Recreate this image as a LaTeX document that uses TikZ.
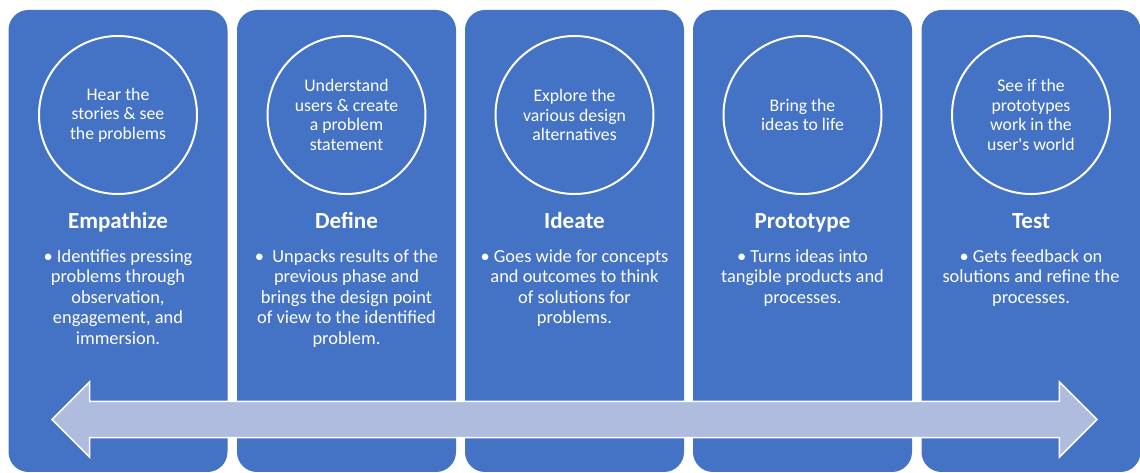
\documentclass[tikz,border=0pt]{standalone}
\usepackage{fontspec}
\setmainfont{Carlito}
\usepackage{xcolor}
\usetikzlibrary{positioning,shapes.arrows}

\definecolor{phaseblue}{HTML}{4472C4}
\definecolor{spanlav}{HTML}{B0BCDE}

\tikzset{
  phase/.style={fill=phaseblue, rounded corners=15pt, minimum width=164.25pt, minimum height=346.5pt, inner sep=0pt},
  aim/.style={circle, draw=white, line width=1.5pt, minimum size=118.5pt, inner sep=0pt, align=center, text=white, font=\fontsize{13.3}{14.6}\selectfont},
  heading/.style={text=white, inner sep=0pt, anchor=base, font=\fontsize{17.3}{20}\selectfont\bfseries},
  notes/.style={text=white, inner sep=0pt, anchor=north, align=center, font=\fontsize{13.8}{15.4}\selectfont},
}

\begin{document}
\begin{tikzpicture}[x=0.75pt, y=0.75pt]
  \useasboundingbox (0,0) rectangle (1140,473);

  % Empathize
  \node[phase] (emp) at (118, 232) {};
  \node[aim] (empc) at (118, 358) {Hear the\\stories \& see\\the problems};
  \node[heading] (empt) at (118, 244) {Empathize};
  \node[notes] (empn) at (118, 224) {\textbullet{} Identifies pressing\\problems through\\observation,\\engagement, and\\immersion.};

  % Define
  \node[phase] (dfn) at (346.5, 232) {};
  \node[aim] (dfnc) at (346.5, 358) {Understand\\users \& create\\a problem\\statement};
  \node[heading] (dfnt) at (346.5, 244) {Define};
  \node[notes] (dfnn) at (346.5, 224) {\textbullet{}\ \ Unpacks results of the\\previous phase and\\brings the design point\\of view to the identified\\problem.};

  % Ideate
  \node[phase] (ide) at (574.5, 232) {};
  \node[aim] (idec) at (574.5, 358) {Explore the\\various design\\alternatives};
  \node[heading] (idet) at (574.5, 244) {Ideate};
  \node[notes] (iden) at (574.5, 224) {\textbullet{} Goes wide for concepts\\and outcomes to think\\of solutions for\\problems.};

  % Prototype
  \node[phase] (pro) at (802.5, 232) {};
  \node[aim] (proc) at (802.5, 358) {Bring the\\ideas to life};
  \node[heading] (prot) at (802.5, 244) {Prototype};
  \node[notes] (pron) at (802.5, 224) {\textbullet{} Turns ideas into\\tangible products and\\processes.};

  % Test
  \node[phase] (tst) at (1031, 232) {};
  \node[aim] (tstc) at (1031, 358) {See if the\\prototypes\\work in the\\user\textquotesingle s world};
  \node[heading] (tstt) at (1031, 244) {Test};
  \node[notes] (tstn) at (1031, 224) {\textbullet{} Gets feedback on\\solutions and refine the\\processes.};

  % Two-way arrow across all phases
  \node[double arrow, draw=white, line width=1.1pt, fill=spanlav,
        minimum height=783.75pt, minimum width=55.5pt,
        inner xsep=0pt, inner ysep=13.1pt, double arrow head extend=14.6pt] (span) at (574.5, 53.5) {};
\end{tikzpicture}
\end{document}
